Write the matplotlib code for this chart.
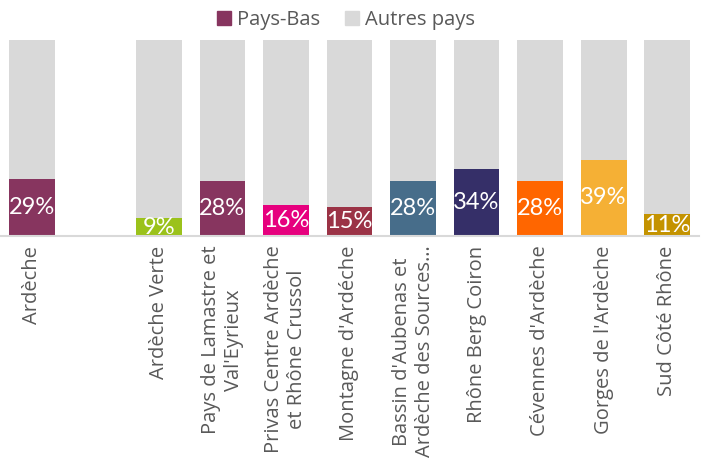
import matplotlib.pyplot as plt
from matplotlib.patches import Patch

# données (part des Pays-Bas, en %)
categories = ["Ardèche", "", "Ardèche Verte", "Pays de Lamastre et\nVal'Eyrieux",
              "Privas Centre Ardèche\net Rhône Crussol", "Montagne d'Ardéche",
              "Bassin d'Aubenas et\nArdèche des Sources…", "Rhône Berg Coiron",
              "Cévennes d'Ardèche", "Gorges de l'Ardèche", "Sud Côté Rhône"]
pays_bas = [29, None, 9, 28, 16, 15, 28, 34, 28, 39, 11]
couleurs = ["#87355F", None, "#9BC21B", "#87355F", "#E6007E", "#9B3346",
            "#476D8A", "#352F68", "#FF6600", "#F5B035", "#C49300"]
gris = "#D9D9D9"

fig = plt.figure(figsize=(7.06, 4.66), dpi=100)
ax = fig.add_axes([0.0, 0.4936, 0.99, 0.4206])

for i, v in enumerate(pays_bas):
    if v is None:
        continue
    ax.bar(i, v, width=0.72, color=couleurs[i])
    ax.bar(i, 100 - v, bottom=v, width=0.72, color=gris)
    ax.text(i, v / 2, f"{v}%", ha="center", va="center", color="white",
            fontsize=17, family="Lato", clip_on=True)

ax.set_xlim(-0.5, len(categories) - 0.5)
ax.set_ylim(0, 100)
ax.set_xticks(range(len(categories)))
ax.set_xticklabels(categories, rotation=90, family="Open Sans", fontsize=14.5,
                   color="#595959", multialignment="center")
ax.tick_params(axis="x", length=0, pad=7)
ax.set_yticks([])
for s in ["top", "right", "left"]:
    ax.spines[s].set_visible(False)
ax.spines["bottom"].set_color(gris)
ax.spines["bottom"].set_linewidth(1.5)

handles = [Patch(color="#87355F", label="Pays-Bas"), Patch(color=gris, label="Autres pays")]
fig.legend(handles=handles, loc="center", bbox_to_anchor=(0.49, 0.957), ncol=2,
           frameon=False, prop={"family": "Open Sans", "size": 14.5},
           labelcolor="#595959", handlelength=0.7, handleheight=0.7,
           handletextpad=0.3, columnspacing=1.2)

fig.savefig("out.png", dpi=100)
